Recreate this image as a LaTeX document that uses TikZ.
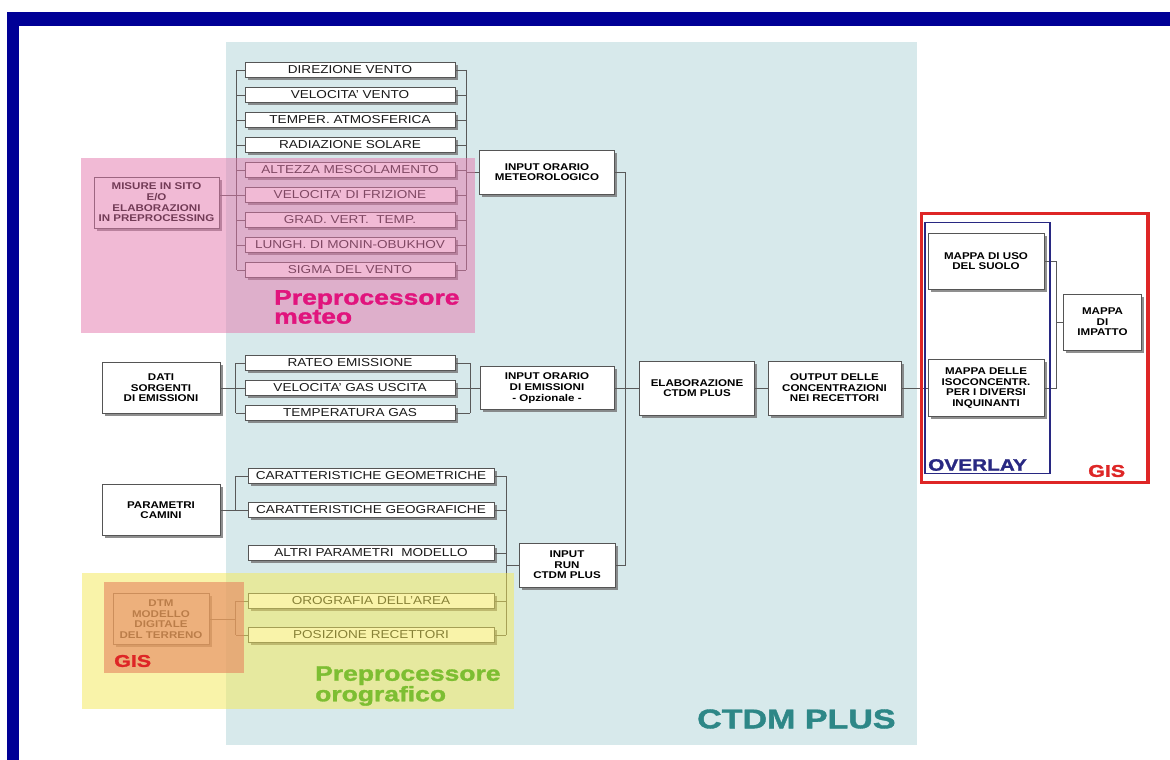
\documentclass[tikz,border=0pt]{standalone}
\usepackage{fontspec}
\setmainfont{Liberation Sans}[FakeStretch=1.18]
\newfontfamily\heavyfont{Liberation Sans}[UprightFont={* Bold}, FakeBold=1.5, FakeStretch=1.26]
\usetikzlibrary{calc, shadows}

\definecolor{frameblue}{RGB}{0,0,150}
\definecolor{ctdmbg}{RGB}{215,233,235}
\definecolor{meteopink}{RGB}{229,119,173}
\definecolor{oroyellow}{RGB}{245,233,85}
\definecolor{gisorange}{RGB}{230,132,95}
\definecolor{boxline}{RGB}{85,85,85}
\definecolor{gisred}{RGB}{222,38,38}
\definecolor{overlayblue}{RGB}{40,40,130}
\definecolor{ctdmteal}{RGB}{45,135,135}
\definecolor{meteomagenta}{RGB}{225,20,125}
\definecolor{orogreen}{RGB}{125,190,50}

\tikzset{
  box/.style={draw=boxline, line width=0.8pt, fill=white, inner sep=0pt,
    drop shadow={shadow xshift=2.5pt, shadow yshift=-2.5pt, fill=black!55, opacity=0.8}},
  smallbox/.style={box, minimum width=210pt, minimum height=15pt, text=black!90,
    font=\fontsize{11.5}{13}\selectfont},
  widebox/.style={smallbox, minimum width=246pt},
  bigbox/.style={box, align=center, text=black, font=\bfseries\fontsize{9.8}{10.6}\selectfont},
  link/.style={draw=black!65, line width=0.8pt},
  heavy/.style={anchor=west, align=left, inner sep=0pt, font=\heavyfont\fontsize{21}{19}\selectfont},
  heavysmall/.style={heavy, font=\heavyfont\fontsize{17}{17}\selectfont},
}

\begin{document}
\begin{tikzpicture}[x=1pt, y=-1pt]
\useasboundingbox (0,0) rectangle (1170,760);
\fill[white] (0,0) rectangle (1170,760);
% Draw frame and CTDM area
\fill[frameblue] (7,12) rectangle (1170,26);
\fill[frameblue] (7,12) rectangle (19,760);
\fill[ctdmbg] (226,42) rectangle (917,745);
% Bracket lines
\coordinate (lbrm) at (236.5,0);
\coordinate (rbrm) at (466,0);
\coordinate (lbre) at (235.5,0);
\coordinate (rbre) at (470,0);
\coordinate (lbrc) at (235.5,0);
\coordinate (rbrc) at (506,0);
\coordinate (bus) at (625.5,0);
\coordinate (rbrg) at (1056,0);
% Meteo inputs
\node[smallbox] (dirv) at (350,70) {DIREZIONE VENTO};
\node[smallbox] (velv) at (350,95) {VELOCITA' VENTO};
\node[smallbox] (tatm) at (350,120) {TEMPER. ATMOSFERICA};
\node[smallbox] (rads) at (350,145) {RADIAZIONE SOLARE};
\node[smallbox] (altm) at (350,170) {ALTEZZA MESCOLAMENTO};
\node[smallbox] (velf) at (350,195) {VELOCITA' DI FRIZIONE};
\node[smallbox] (gradt) at (350,220) {GRAD. VERT.~~TEMP.};
\node[smallbox] (lmo) at (350,245) {LUNGH. DI MONIN-OBUKHOV};
\node[smallbox] (sigv) at (350,270) {SIGMA DEL VENTO};
\node[bigbox, minimum width=125pt, minimum height=51pt] (misure) at (156.5,202.5) {MISURE IN SITO\\E/O\\ELABORAZIONI\\IN PREPROCESSING};
\node[bigbox, minimum width=135pt, minimum height=44pt] (inmet) at (547,172) {INPUT ORARIO\\METEOROLOGICO};
% Emission inputs
\node[smallbox] (rateo) at (350,363) {RATEO EMISSIONE};
\node[smallbox] (velg) at (350,388) {VELOCITA' GAS USCITA};
\node[smallbox] (tgas) at (350,413) {TEMPERATURA GAS};
\node[bigbox, minimum width=118pt, minimum height=51pt] (dati) at (161,388) {DATI\\SORGENTI\\DI EMISSIONI};
\node[bigbox, minimum width=134pt, minimum height=43pt] (inemi) at (547,388) {INPUT ORARIO\\DI EMISSIONI\\- Opzionale -};
% Model and output
\node[bigbox, minimum width=115pt, minimum height=54pt] (elab) at (697,388) {ELABORAZIONE\\CTDM PLUS};
\node[bigbox, minimum width=133pt, minimum height=54pt] (output) at (834.5,388) {OUTPUT DELLE\\CONCENTRAZIONI\\NEI RECETTORI};
% Stack and terrain inputs
\node[widebox] (geom) at (371,476) {CARATTERISTICHE GEOMETRICHE};
\node[widebox] (geog) at (371,510) {CARATTERISTICHE GEOGRAFICHE};
\node[widebox] (altri) at (371,553) {ALTRI PARAMETRI~~MODELLO};
\node[widebox] (orog) at (371,601) {OROGRAFIA DELL'AREA};
\node[widebox] (posiz) at (371,635) {POSIZIONE RECETTORI};
\node[bigbox, minimum width=118pt, minimum height=51pt] (param) at (161,510) {PARAMETRI\\CAMINI};
\node[bigbox, minimum width=96pt, minimum height=51pt] (dtm) at (161,619) {DTM\\MODELLO\\DIGITALE\\DEL TERRENO};
\node[bigbox, minimum width=96pt, minimum height=44pt] (inrun) at (567,565) {INPUT\\RUN\\CTDM PLUS};
% GIS maps
\node[bigbox, minimum width=116pt, minimum height=56pt] (uso) at (986,261) {MAPPA DI USO\\DEL SUOLO};
\node[bigbox, minimum width=116pt, minimum height=57pt] (iso) at (986,388) {MAPPA DELLE\\ISOCONCENTR.\\PER I DIVERSI\\INQUINANTI};
\node[bigbox, minimum width=78pt, minimum height=56pt] (impatto) at (1102.5,322) {MAPPA\\DI\\IMPATTO};
% Draw meteo connectors
\draw[link] (dirv.west -| lbrm) -- (sigv.west -| lbrm)
  (dirv.west) -- (dirv.west -| lbrm) (velv.west) -- (velv.west -| lbrm)
  (tatm.west) -- (tatm.west -| lbrm) (rads.west) -- (rads.west -| lbrm)
  (altm.west) -- (altm.west -| lbrm) (velf.west) -- (velf.west -| lbrm)
  (gradt.west) -- (gradt.west -| lbrm) (lmo.west) -- (lmo.west -| lbrm)
  (sigv.west) -- (sigv.west -| lbrm);
\draw[link] (misure.east |- velf.west) -- (velf.west);
\draw[link] (dirv.east -| rbrm) -- (sigv.east -| rbrm)
  (dirv.east) -- (dirv.east -| rbrm) (velv.east) -- (velv.east -| rbrm)
  (tatm.east) -- (tatm.east -| rbrm) (rads.east) -- (rads.east -| rbrm)
  (altm.east) -- (altm.east -| rbrm) (velf.east) -- (velf.east -| rbrm)
  (gradt.east) -- (gradt.east -| rbrm) (lmo.east) -- (lmo.east -| rbrm)
  (sigv.east) -- (sigv.east -| rbrm);
\draw[link] (inmet.west -| rbrm) -- (inmet.west);
% Draw emission connectors
\draw[link] (rateo.west -| lbre) -- (tgas.west -| lbre)
  (rateo.west) -- (rateo.west -| lbre) (tgas.west) -- (tgas.west -| lbre);
\draw[link] (dati.east) -- (velg.west);
\draw[link] (rateo.east -| rbre) -- (tgas.east -| rbre)
  (rateo.east) -- (rateo.east -| rbre) (velg.east) -- (velg.east -| rbre)
  (tgas.east) -- (tgas.east -| rbre);
\draw[link] (inemi.west -| rbre) -- (inemi.west);
% Draw stack and terrain connectors
\draw[link] (geom.west -| lbrc) -- (geog.west -| lbrc) (geom.west) -- (geom.west -| lbrc);
\draw[link] (param.east) -- (geog.west);
\draw[link] (orog.west -| lbrc) -- (posiz.west -| lbrc)
  (orog.west) -- (orog.west -| lbrc) (posiz.west) -- (posiz.west -| lbrc);
\draw[link] (dtm.east) -- (dtm.east -| lbrc);
\draw[link] (geom.east -| rbrc) -- (posiz.east -| rbrc)
  (geom.east) -- (geom.east -| rbrc) (geog.east) -- (geog.east -| rbrc)
  (altri.east) -- (altri.east -| rbrc) (orog.east) -- (orog.east -| rbrc)
  (posiz.east) -- (posiz.east -| rbrc);
\draw[link] (inrun.west -| rbrc) -- (inrun.west);
% Draw bus to the model
\draw[link] (inmet.east) -- (inmet.east -| bus) -- (inrun.east -| bus) -- (inrun.east);
\draw[link] (inemi.east) -- (elab.west);
\draw[link] (elab.east) -- (output.west);
\draw[link] (output.east) -- (iso.west);
\draw[link] (uso.east) -- (uso.east -| rbrg) -- (iso.east -| rbrg) -- (iso.east);
\draw[link] (impatto.west -| rbrg) -- (impatto.west);
% Overlay areas
\fill[meteopink, opacity=0.5] (81,158) rectangle (474.5,333);
\fill[oroyellow, opacity=0.5] (82,573) rectangle (513.5,709);
\fill[gisorange, opacity=0.6] (104,582) rectangle (243.7,673);
\draw[gisred, line width=3.5pt] (921.5,213.5) rectangle (1148,482.5);
\draw[overlayblue, line width=1.4pt] (925,222.5) rectangle (1050,473.5);
% Area labels
\node[heavy, text=meteomagenta] (premeteo) at (274,307) {Preprocessore\\meteo};
\node[heavy, text=orogreen] (preoro) at (315,686) {Preprocessore\\orografico};
\node[heavy, text=ctdmteal, font=\heavyfont\fontsize{27}{27}\selectfont] (ctdm) at (697,719) {CTDM PLUS};
\node[heavysmall, text=gisred] (gisdtm) at (114,661) {GIS};
\node[heavysmall, text=gisred] (gismap) at (1088,471) {GIS};
\node[heavysmall, text=overlayblue, font=\heavyfont\fontsize{16.5}{17}\selectfont] (overlay) at (928,465) {OVERLAY};
\end{tikzpicture}
\end{document}
